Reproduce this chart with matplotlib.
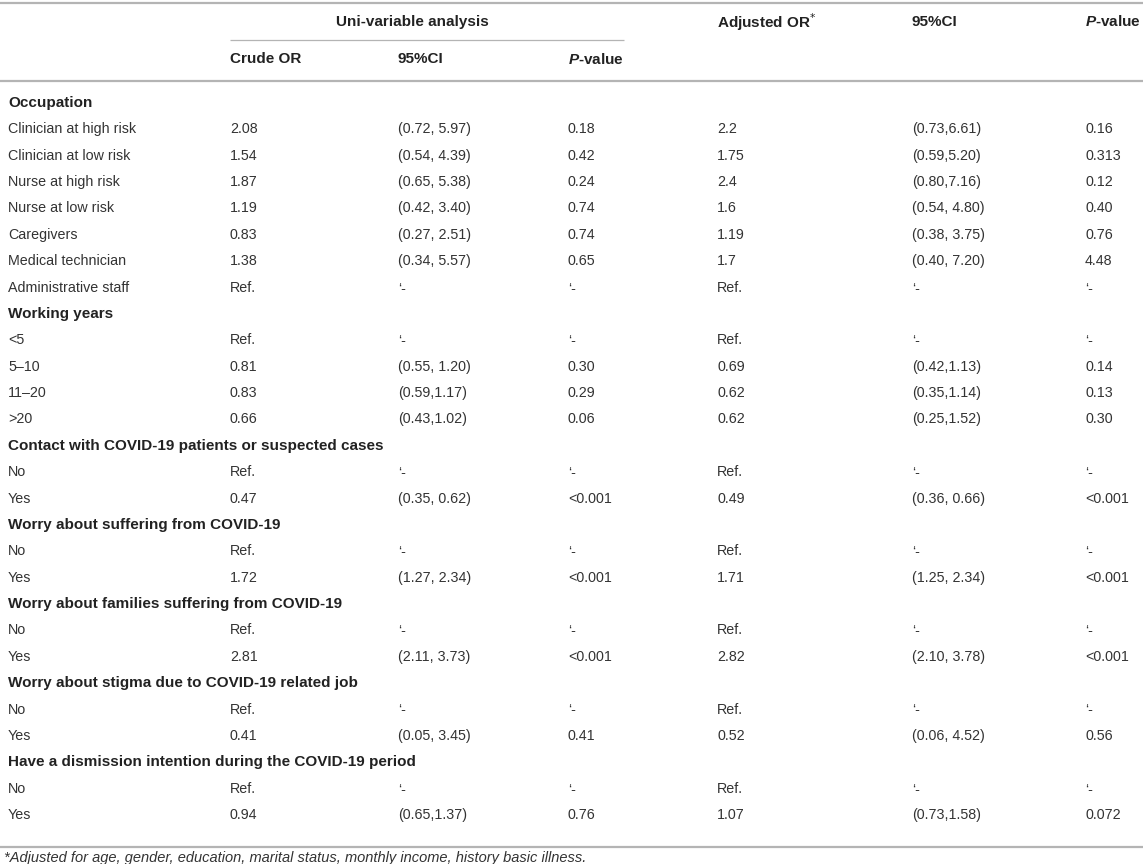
import matplotlib.pyplot as plt

plt.rcParams['font.family'] = ['Liberation Sans', 'DejaVu Sans']
plt.rcParams['mathtext.fontset'] = 'custom'
plt.rcParams['mathtext.bfit'] = 'Liberation Sans:bold:italic'

DASH = '\u2018-'

# row labels; group titles are drawn bold
row_labels = [
    'Occupation', 'Clinician at high risk', 'Clinician at low risk', 'Nurse at high risk',
    'Nurse at low risk', 'Caregivers', 'Medical technician', 'Administrative staff',
    'Working years', '<5', '5\u201310', '11\u201320', '>20',
    'Contact with COVID-19 patients or suspected cases', 'No', 'Yes',
    'Worry about suffering from COVID-19', 'No', 'Yes',
    'Worry about families suffering from COVID-19', 'No', 'Yes',
    'Worry about stigma due to COVID-19 related job', 'No', 'Yes',
    'Have a dismission intention during the COVID-19 period', 'No', 'Yes',
]
group_rows = [0, 8, 13, 16, 19, 22, 25]

crude_or = ['', '2.08', '1.54', '1.87', '1.19', '0.83', '1.38', 'Ref.',
            '', 'Ref.', '0.81', '0.83', '0.66',
            '', 'Ref.', '0.47', '', 'Ref.', '1.72', '', 'Ref.', '2.81',
            '', 'Ref.', '0.41', '', 'Ref.', '0.94']
crude_ci = ['', '(0.72, 5.97)', '(0.54, 4.39)', '(0.65, 5.38)', '(0.42, 3.40)',
            '(0.27, 2.51)', '(0.34, 5.57)', DASH,
            '', DASH, '(0.55, 1.20)', '(0.59,1.17)', '(0.43,1.02)',
            '', DASH, '(0.35, 0.62)', '', DASH, '(1.27, 2.34)', '', DASH, '(2.11, 3.73)',
            '', DASH, '(0.05, 3.45)', '', DASH, '(0.65,1.37)']
crude_p = ['', '0.18', '0.42', '0.24', '0.74', '0.74', '0.65', DASH,
           '', DASH, '0.30', '0.29', '0.06',
           '', DASH, '<0.001', '', DASH, '<0.001', '', DASH, '<0.001',
           '', DASH, '0.41', '', DASH, '0.76']
adj_or = ['', '2.2', '1.75', '2.4', '1.6', '1.19', '1.7', 'Ref.',
          '', 'Ref.', '0.69', '0.62', '0.62',
          '', 'Ref.', '0.49', '', 'Ref.', '1.71', '', 'Ref.', '2.82',
          '', 'Ref.', '0.52', '', 'Ref.', '1.07']
adj_ci = ['', '(0.73,6.61)', '(0.59,5.20)', '(0.80,7.16)', '(0.54, 4.80)',
          '(0.38, 3.75)', '(0.40, 7.20)', DASH,
          '', DASH, '(0.42,1.13)', '(0.35,1.14)', '(0.25,1.52)',
          '', DASH, '(0.36, 0.66)', '', DASH, '(1.25, 2.34)', '', DASH, '(2.10, 3.78)',
          '', DASH, '(0.06, 4.52)', '', DASH, '(0.73,1.58)']
adj_p = ['', '0.16', '0.313', '0.12', '0.40', '0.76', '4.48', DASH,
         '', DASH, '0.14', '0.13', '0.30',
         '', DASH, '<0.001', '', DASH, '<0.001', '', DASH, '<0.001',
         '', DASH, '0.56', '', DASH, '0.072']

footnote = '*Adjusted for age, gender, education, marital status, monthly income, history basic illness.'

W, H = 1143, 864
fig = plt.figure(figsize=(W / 100, H / 100), dpi=100)
ax = fig.add_axes([0, 0, 1, 1])
ax.set_xlim(0, W)
ax.set_ylim(H, 0)
ax.axis('off')

fs = 10.3
fs_b = 11.0
txt = '#333333'
bold_c = '#222222'
rule = '#b4b4b4'

col_x = [8, 230, 398, 568, 717, 912, 1085]
columns = [crude_or, crude_ci, crude_p, adj_or, adj_ci, adj_p]

# rules
ax.plot([0, W], [3, 3], color=rule, lw=1.6, solid_capstyle='butt')
ax.plot([230, 624], [40, 40], color=rule, lw=0.9, solid_capstyle='butt')
ax.plot([0, W], [81, 81], color=rule, lw=1.6, solid_capstyle='butt')
ax.plot([0, W], [847, 847], color=rule, lw=1.6, solid_capstyle='butt')

# headers
hy1, hy2 = 22, 59
hdr = dict(fontsize=fs_b, fontweight='bold', color=bold_c, va='center')
ax.text(412, hy1, 'Uni-variable analysis', ha='center', **hdr)
ax.text(col_x[1], hy2, 'Crude OR', **hdr)
ax.text(col_x[2], hy2, '95%CI', **hdr)
ax.text(col_x[3], hy2, r'$\mathbfit{P}$-value', **hdr)
ax.text(col_x[4], hy1, r'Adjusted OR$^{*}$', **hdr)
ax.text(col_x[5], hy1, '95%CI', **hdr)
ax.text(col_x[6], hy1, r'$\mathbfit{P}$-value', **hdr)

# body
y0, step = 103, 26.37
for i, lab in enumerate(row_labels):
    y = y0 + i * step
    if i in group_rows:
        ax.text(col_x[0], y, lab, **hdr)
        continue
    ax.text(col_x[0], y, lab, fontsize=fs, color=txt, va='center')
    for x, col in zip(col_x[1:], columns):
        ax.text(x, y, col[i], fontsize=fs, color=txt, va='center')

ax.text(4, 858, footnote, fontsize=10.5, style='italic', color=txt, va='center')

fig.savefig('out.png', dpi=100)
